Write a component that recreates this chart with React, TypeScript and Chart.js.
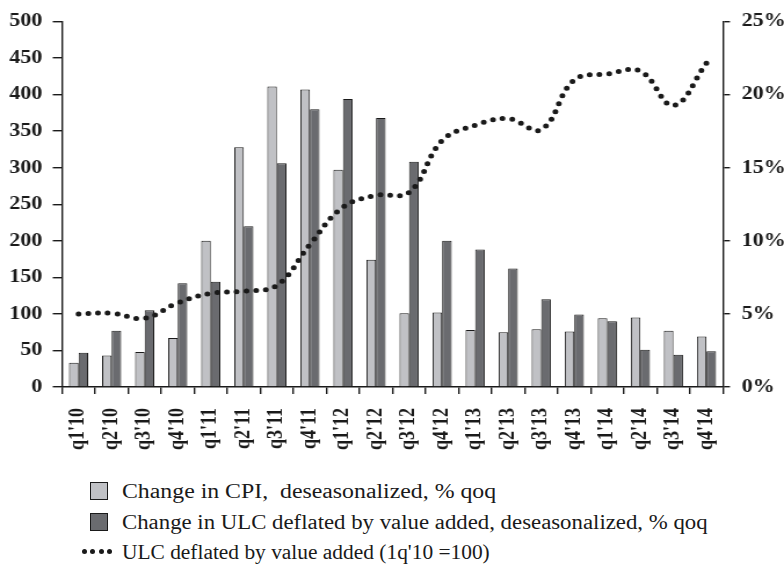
import React, { useEffect, useRef } from "react";
import { Chart, registerables } from "chart.js";

Chart.register(...registerables);

const quarters = [
  "q1'10", "q2'10", "q3'10", "q4'10",
  "q1'11", "q2'11", "q3'11", "q4'11",
  "q1'12", "q2'12", "q3'12", "q4'12",
  "q1'13", "q2'13", "q3'13", "q4'13",
  "q1'14", "q2'14", "q3'14", "q4'14",
];

// % qoq (right axis)
const cpiChange = [1.65, 2.15, 2.4, 3.35, 10.0, 16.4, 20.55, 20.35, 14.85, 8.7, 5.05, 5.1, 3.9, 3.75, 3.95, 3.8, 4.7, 4.75, 3.85, 3.45];
const ulcChange = [2.35, 3.85, 5.25, 7.1, 7.2, 11.0, 15.3, 19.0, 19.7, 18.4, 15.4, 10.0, 9.4, 8.1, 6.0, 4.95, 4.5, 2.55, 2.2, 2.45];
// index, 1q'10 = 100 (left axis)
const ulcIndex = [100, 101, 94, 115, 128, 131, 139, 195, 246, 262, 266, 337, 358, 367, 352, 420, 428, 432, 385, 443];

const leftTicks = { min: 0, max: 500, step: 50 };
const rightTicks = { min: 0, max: 25, step: 5 };

const legendLabels = [
  "Change in CPI,  deseasonalized, % qoq",
  "Change in ULC deflated by value added, deseasonalized, % qoq",
  "ULC deflated by value added (1q'10 =100)",
];

const LIGHT = "#c0c1c5";
const DARK = "#6a6b6f";
const INK = "#1a1a1a";

const PAGE_W = 784;
const CANVAS_W = 676; // rendered narrower then stretched horizontally
const CANVAS_H = 466;

export default function App() {
  const ref = useRef<HTMLCanvasElement | null>(null);

  useEffect(() => {
    if (!ref.current) return;
    const tickFont = { family: "'Liberation Serif', 'Times New Roman', serif", size: 19, weight: "bold" as const };
    const gridCfg = { display: true, drawOnChartArea: false, drawTicks: true, color: INK, lineWidth: 1.4 };
    const chart = new Chart(ref.current, {
      type: "bar",
      data: {
        labels: quarters,
        datasets: [
          {
            type: "line",
            label: legendLabels[2],
            data: ulcIndex,
            yAxisID: "y",
            borderColor: INK,
            borderWidth: 5,
            borderDash: [0, 8.4],
            borderCapStyle: "round",
            pointRadius: 0,
            tension: 0.4,
            fill: false,
            order: 0,
          } as any,
          {
            type: "bar",
            label: legendLabels[0],
            data: cpiChange,
            yAxisID: "y1",
            backgroundColor: LIGHT,
            borderColor: INK,
            borderWidth: 1,
            barPercentage: 1,
            categoryPercentage: 0.58,
            order: 1,
          },
          {
            type: "bar",
            label: legendLabels[1],
            data: ulcChange,
            yAxisID: "y1",
            backgroundColor: DARK,
            borderColor: INK,
            borderWidth: 1,
            barPercentage: 1,
            categoryPercentage: 0.58,
            order: 1,
          },
        ],
      },
      options: {
        animation: false,
        responsive: false,
        maintainAspectRatio: false,
        layout: { padding: { top: 16, left: 0, right: 0, bottom: 0 } },
        plugins: { legend: { display: false }, tooltip: { enabled: false } },
        scales: {
          x: {
            offset: true,
            grid: { ...gridCfg, offset: true, tickLength: 7 },
            border: { display: true, color: INK, width: 1.4 },
            ticks: {
              font: { ...tickFont, size: 18 },
              color: INK,
              minRotation: 90,
              maxRotation: 90,
              autoSkip: false,
              padding: 14,
            },
            afterFit: (s: any) => { s.height = 79; },
          },
          y: {
            position: "left",
            min: leftTicks.min,
            max: leftTicks.max,
            grid: { ...gridCfg, tickLength: 8 },
            border: { display: true, color: INK, width: 1.4 },
            ticks: { stepSize: leftTicks.step, font: tickFont, color: INK, padding: 9 },
            afterFit: (s: any) => { s.width = 53.5; },
          },
          y1: {
            position: "right",
            min: rightTicks.min,
            max: rightTicks.max,
            grid: { ...gridCfg, tickLength: 6 },
            border: { display: true, color: INK, width: 1.4 },
            ticks: {
              stepSize: rightTicks.step,
              font: tickFont,
              color: INK,
              padding: 10,
              callback: (v: any) => `${v}%`,
            },
            afterFit: (s: any) => { s.width = 52.6; },
          },
        },
      },
    });
    return () => chart.destroy();
  }, []);

  const textStyle = (top: number, scale: number): React.CSSProperties => ({
    position: "absolute",
    left: 122,
    top,
    fontFamily: "'Liberation Serif', 'Times New Roman', serif",
    fontSize: 20,
    color: INK,
    whiteSpace: "pre",
    lineHeight: "22px",
    transform: `scaleX(${scale})`,
    transformOrigin: "left top",
  });
  const sq = (top: number, color: string): React.CSSProperties => ({
    position: "absolute",
    left: 90,
    top,
    width: 18,
    height: 18,
    background: color,
    border: `1.5px solid ${INK}`,
    boxSizing: "border-box",
  });

  return (
    <div style={{ position: "absolute", left: 0, top: 0, width: PAGE_W, height: 566, background: "#fff" }}>
      <canvas
        ref={ref}
        width={CANVAS_W}
        height={CANVAS_H}
        style={{ position: "absolute", left: 0, top: 0, width: PAGE_W, height: CANVAS_H, display: "block" }}
      />
      <div style={sq(482, LIGHT)} />
      <div style={textStyle(480, 1.19)}>{legendLabels[0]}</div>
      <div style={sq(513, DARK)} />
      <div style={textStyle(511, 1.14)}>{legendLabels[1]}</div>
      <div style={{ position: "absolute", left: 82, top: 549, display: "flex", gap: 3.3 }}>
        {[0, 1, 2, 3].map((i) => (
          <div key={i} style={{ width: 5, height: 5, borderRadius: "50%", background: INK }} />
        ))}
      </div>
      <div style={textStyle(541, 1.07)}>{legendLabels[2]}</div>
    </div>
  );
}
